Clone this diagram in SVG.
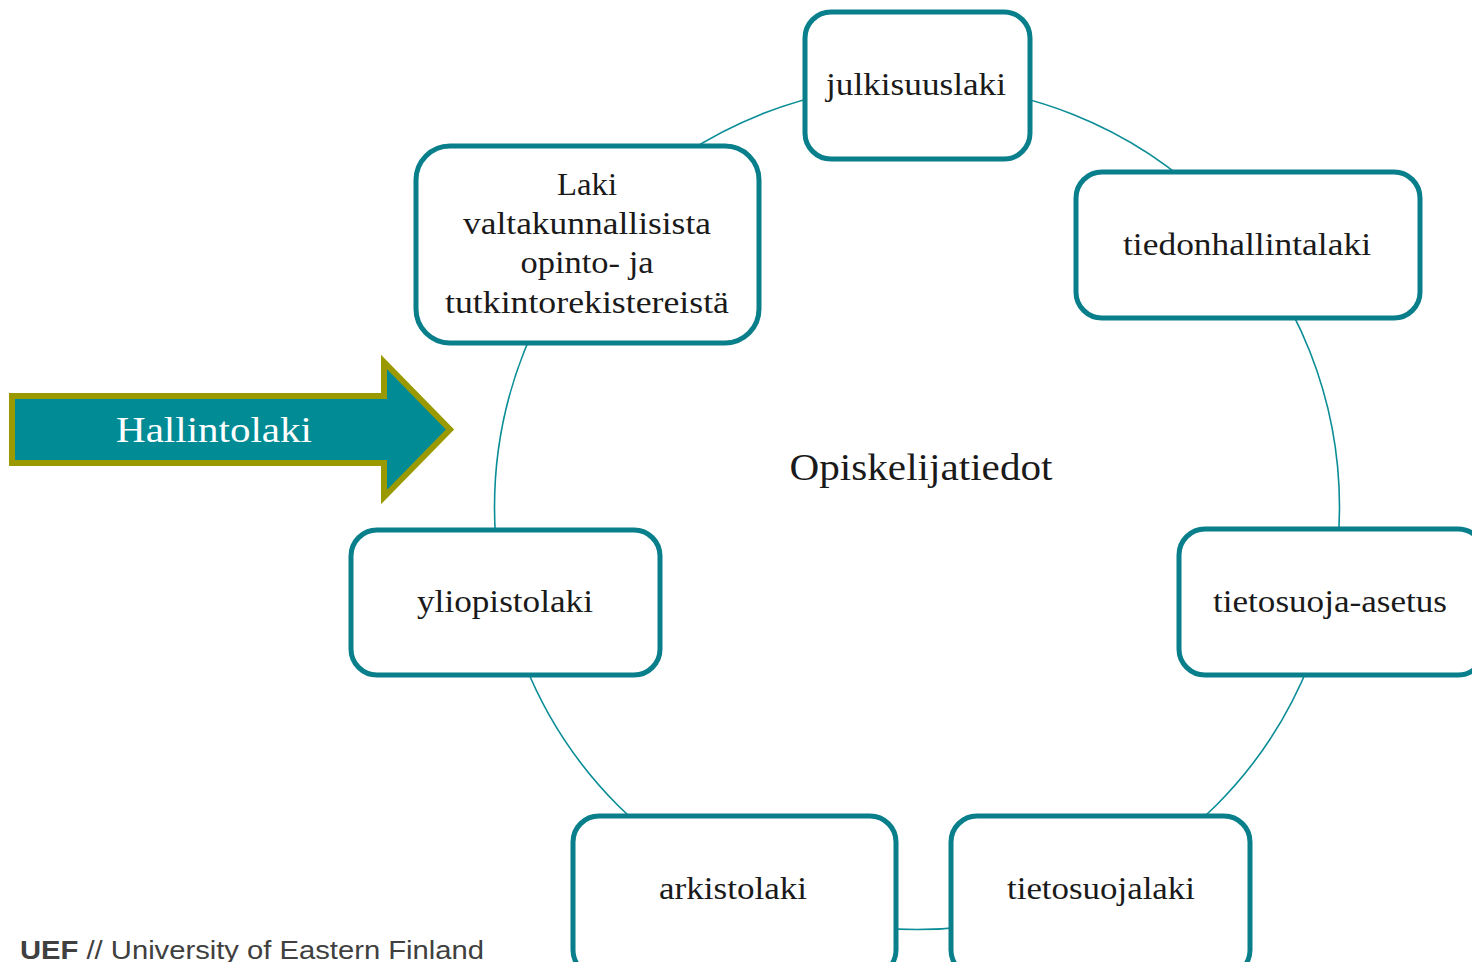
<svg xmlns="http://www.w3.org/2000/svg" width="1472" height="962" viewBox="0 0 1472 962">
<style>
.box{fill:#ffffff;stroke:#087F8A;stroke-width:5}
.lbl{font-family:"Liberation Serif","Times New Roman",serif;font-size:31px;fill:#1a1a1a;text-anchor:middle}
.ring{fill:none;stroke:#0A8D96;stroke-width:1.6}
</style>
<rect width="1472" height="962" fill="#ffffff"/>
<g id="connectors">
<circle class="ring" cx="917" cy="507" r="422.5"/>
</g>
<g id="node-julkisuuslaki">
<rect class="box" x="805" y="12" width="225" height="147" rx="26"/>
<text class="lbl" x="916" y="95" textLength="180" lengthAdjust="spacingAndGlyphs">julkisuuslaki</text>
</g>
<g id="node-laki">
<rect class="box" x="416" y="146" width="343" height="197" rx="34"/>
<text class="lbl" x="587" y="195" textLength="60" lengthAdjust="spacingAndGlyphs">Laki</text>
<text class="lbl" x="587" y="234" textLength="248" lengthAdjust="spacingAndGlyphs">valtakunnallisista</text>
<text class="lbl" x="587" y="273" textLength="133" lengthAdjust="spacingAndGlyphs">opinto- ja</text>
<text class="lbl" x="587" y="313" textLength="284" lengthAdjust="spacingAndGlyphs">tutkintorekistereistä</text>
</g>
<g id="node-tiedonhallintalaki">
<rect class="box" x="1076" y="172" width="344" height="146" rx="26"/>
<text class="lbl" x="1247" y="255" textLength="248" lengthAdjust="spacingAndGlyphs">tiedonhallintalaki</text>
</g>
<g id="node-tietosuoja-asetus">
<rect class="box" x="1179" y="529" width="305" height="146" rx="26"/>
<text class="lbl" x="1330" y="612" textLength="234" lengthAdjust="spacingAndGlyphs">tietosuoja-asetus</text>
</g>
<g id="node-yliopistolaki">
<rect class="box" x="351" y="530" width="309" height="145" rx="26"/>
<text class="lbl" x="505" y="612" textLength="176" lengthAdjust="spacingAndGlyphs">yliopistolaki</text>
</g>
<g id="node-arkistolaki">
<rect class="box" x="573" y="816" width="323" height="160" rx="26"/>
<text class="lbl" x="733" y="899" textLength="148" lengthAdjust="spacingAndGlyphs">arkistolaki</text>
</g>
<g id="node-tietosuojalaki">
<rect class="box" x="951" y="816" width="299" height="160" rx="26"/>
<text class="lbl" x="1101" y="899" textLength="188" lengthAdjust="spacingAndGlyphs">tietosuojalaki</text>
</g>
<g id="node-opiskelijatiedot">
<text x="921" y="480" font-family="'Liberation Serif','Times New Roman',serif" font-size="38" fill="#1a1a1a" text-anchor="middle" textLength="263" lengthAdjust="spacingAndGlyphs">Opiskelijatiedot</text>
</g>
<g id="node-hallintolaki">
<polygon points="12,396 384,396 384,362 450,429.5 384,497 384,463 12,463" fill="#008B95" stroke="#9A9A00" stroke-width="6" stroke-linejoin="miter"/>
<text x="214" y="442" font-family="'Liberation Serif','Times New Roman',serif" font-size="36" fill="#ffffff" text-anchor="middle" textLength="196" lengthAdjust="spacingAndGlyphs">Hallintolaki</text>
</g>
<g id="footer">
<text x="20" y="959" font-family="'Liberation Sans',Arial,sans-serif" font-size="26" fill="#404040" textLength="464" lengthAdjust="spacingAndGlyphs"><tspan font-weight="bold">UEF</tspan> // University of Eastern Finland</text>
</g>
</svg>
